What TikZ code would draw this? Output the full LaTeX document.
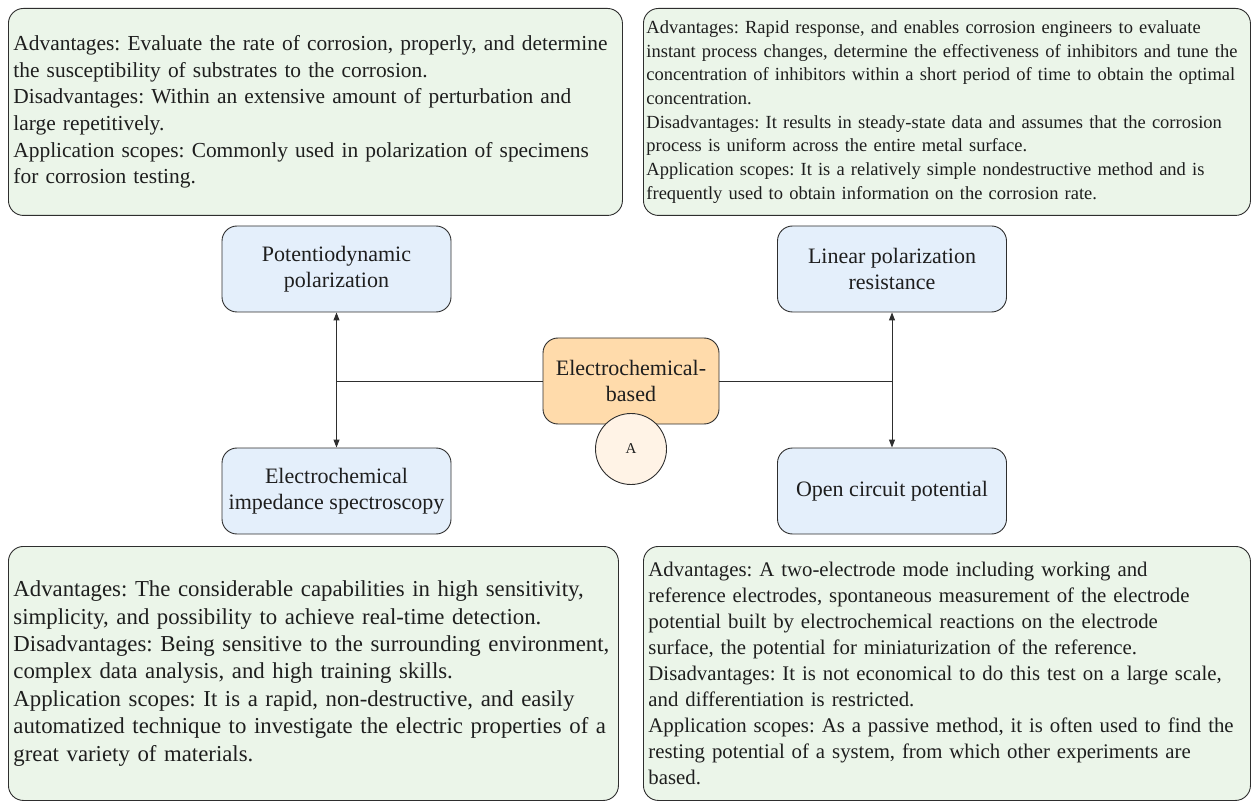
\documentclass[tikz,border=0pt]{standalone}
\usepackage{fontspec}
\setmainfont{Liberation Serif}
\frenchspacing
\usetikzlibrary{arrows.meta}
\definecolor{notegreen}{HTML}{EBF5E9}
\definecolor{methodblue}{HTML}{E4EFFB}
\definecolor{hubfill}{HTML}{FFDBAB}
\definecolor{tagfill}{HTML}{FFF3E6}
\definecolor{edge}{HTML}{2E2E2E}
\definecolor{ink}{HTML}{1E1E1E}
\tikzset{
  note/.style={draw=edge, line width=0.9pt, fill=notegreen, rounded corners=15pt,
    align=left, anchor=north west, inner xsep=5pt, inner ysep=0pt, text=ink},
  method/.style={draw=edge, line width=0.9pt, fill=methodblue, rounded corners=15pt,
    minimum width=229pt, minimum height=86pt, align=center, text=ink,
    font=\fontsize{22}{26}\selectfont},
  hub/.style={draw=edge, line width=0.9pt, fill=hubfill, rounded corners=15pt,
    minimum width=176pt, minimum height=86pt, align=center, text=ink,
    font=\fontsize{22}{26}\selectfont},
  tag/.style={draw=edge, line width=0.9pt, fill=tagfill, circle, minimum size=71pt,
    inner sep=0pt, text=ink, font=\fontsize{15}{16}\selectfont},
  link/.style={draw=edge, line width=0.9pt},
  twoway/.style={link, {Triangle[length=8pt,width=6pt]}-{Triangle[length=8pt,width=6pt]}}
}
\begin{document}
\begin{tikzpicture}[x=1pt,y=-1pt]
\useasboundingbox (0,0) rectangle (1251,802);

% notes on each method
\node[note, text width=604pt, minimum height=207pt, font=\fontsize{21.4}{26.6}\selectfont] (pdnote) at (8,8)
 {Advantages: Evaluate the rate of corrosion, properly, and determine\\
  the susceptibility of substrates to the corrosion.\\
  Disadvantages: Within an extensive amount of perturbation and\\
  large repetitively.\\
  Application scopes: Commonly used in polarization of specimens\\
  for corrosion testing.};

\node[note, inner xsep=3pt, text width=601pt, minimum height=207pt, font=\fontsize{18.5}{23.7}\selectfont] (lprnote) at (643,8)
 {Advantages: Rapid response, and enables corrosion engineers to evaluate\\
  instant process changes, determine the effectiveness of inhibitors and tune the\\
  concentration of inhibitors within a short period of time to obtain the optimal\\
  concentration.\\
  Disadvantages: It results in steady-state data and assumes that the corrosion\\
  process is uniform across the entire metal surface.\\
  Application scopes: It is a relatively simple nondestructive method and is\\
  frequently used to obtain information on the corrosion rate.};

\node[note, text width=600pt, minimum height=254pt, font=\fontsize{22.8}{27.4}\selectfont] (eisnote) at (8,546)
 {Advantages: The considerable capabilities in high sensitivity,\\
  simplicity, and possibility to achieve real-time detection.\\
  Disadvantages: Being sensitive to the surrounding environment,\\
  complex data analysis, and high training skills.\\
  Application scopes: It is a rapid, non-destructive, and easily\\
  automatized technique to investigate the electric properties of a\\
  great variety of materials.};

\node[note, text width=597pt, minimum height=254pt, font=\fontsize{20.8}{26}\selectfont] (ocpnote) at (643,546)
 {Advantages: A two-electrode mode including working and\\
  reference electrodes, spontaneous measurement of the electrode\\
  potential built by electrochemical reactions on the electrode\\
  surface, the potential for miniaturization of the reference.\\
  Disadvantages: It is not economical to do this test on a large scale,\\
  and differentiation is restricted.\\
  Application scopes: As a passive method, it is often used to find the\\
  resting potential of a system, from which other experiments are\\
  based.};

% methods
\node[method] (pd)  at (336.5,269) {Potentiodynamic\\polarization};
\node[method] (lpr) at (892,269)   {Linear polarization\\resistance};
\node[method] (eis) at (336.5,491) {Electrochemical\\impedance spectroscopy};
\node[method] (ocp) at (892,491)   {Open circuit potential};

% central category
\node[hub] (hub) at (631,381) {Electrochemical-\\based};
\node[tag] (tagA) at (631,449) {A};

% branches
\coordinate (lj) at (pd.south |- hub.west);
\coordinate (rj) at (lpr.south |- hub.east);
\draw[link] (hub.west) -- (lj);
\draw[link] (hub.east) -- (rj);
\draw[twoway] (pd.south) -- (eis.north);
\draw[twoway] (lpr.south) -- (ocp.north);
\end{tikzpicture}
\end{document}
